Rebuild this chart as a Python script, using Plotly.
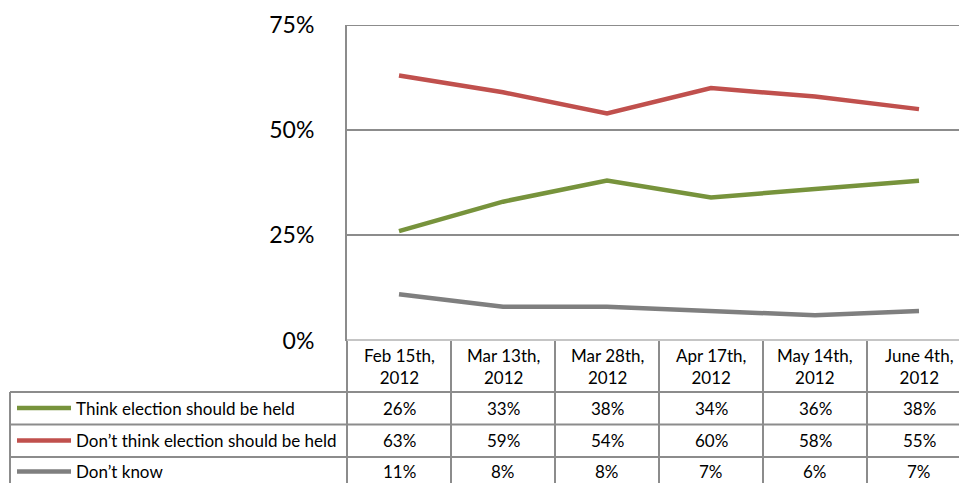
import plotly.graph_objects as go

# ---- data ----
dates = ["Feb 15th,<br>2012", "Mar 13th,<br>2012", "Mar 28th,<br>2012",
         "Apr 17th,<br>2012", "May 14th,<br>2012", "June 4th,<br>2012"]
think_held = [26, 33, 38, 34, 36, 38]
dont_think_held = [63, 59, 54, 60, 58, 55]
dont_know = [11, 8, 8, 7, 6, 7]
series_names = ["Think election should be held",
                "Don\u2019t think election should be held",
                "Don\u2019t know"]
y_ticks = [0, 25, 50, 75]

# page body has an 8px margin: size the figure so it fills the window
OFF = 8
W, H = 967 - OFF, 483 - OFF
FONT = "Lato"
colors = ["#77933C", "#C0504D", "#7F7F7F"]
grid_col = "#8C8C8C"

def px(x):
    return (x - OFF) / W

def py(y):
    return 1 - (y - OFF) / H

plot_left, plot_top, plot_bottom = 347, 25, 340.5
col_w = 104.0
n = len(dates)
right_units = (967 - plot_left) / col_w  # visible number of columns

fig = go.Figure()
all_series = [think_held, dont_think_held, dont_know]
for name, vals, c in zip(series_names, all_series, colors):
    fig.add_trace(go.Scatter(
        x=list(range(n)), y=vals, mode="lines", name=name,
        line=dict(color=c, width=4.5), showlegend=False, hoverinfo="skip"))

fig.update_layout(
    width=W, height=H, margin=dict(l=0, r=0, t=0, b=0, autoexpand=False),
    paper_bgcolor="white", plot_bgcolor="white",
    font=dict(family=FONT, color="#000000"),
    xaxis=dict(domain=[px(plot_left), 1], range=[-0.5, -0.5 + right_units],
               showticklabels=False, showgrid=False, zeroline=False,
               showline=False, fixedrange=True, automargin=False),
    yaxis=dict(domain=[py(plot_bottom), py(plot_top)], range=[0, 75],
               tickvals=y_ticks, ticktext=[f"{v}%" for v in y_ticks],
               tickfont=dict(size=23, family=FONT, color="#000"),
               ticklabelstandoff=26, ticks="",
               showgrid=True, gridcolor=grid_col, gridwidth=2,
               zeroline=False, showline=True, linecolor=grid_col, linewidth=2,
               fixedrange=True, automargin=False),
)

shapes = []
line_style = dict(color=grid_col, width=2)
for v in (y_ticks[0], y_ticks[-1]):
    shapes.append(dict(type="line", xref="paper", yref="y",
                       x0=px(plot_left), x1=1, y0=v, y1=v, line=line_style, layer="below"))
table_top = 341
row_lines = [392, 424.5, 457]
table_bottom = 495
for y in row_lines:
    shapes.append(dict(type="line", xref="paper", yref="paper",
                       x0=px(10), x1=px(975), y0=py(y), y1=py(y), line=line_style))
for i in range(1, n + 1):
    x = plot_left + i * col_w
    shapes.append(dict(type="line", xref="paper", yref="paper",
                       x0=px(x), x1=px(x), y0=py(table_top), y1=py(table_bottom), line=line_style))
shapes.append(dict(type="line", xref="paper", yref="paper",
                   x0=px(plot_left), x1=px(plot_left), y0=py(table_top), y1=py(table_bottom), line=line_style))
shapes.append(dict(type="line", xref="paper", yref="paper",
                   x0=px(10), x1=px(10), y0=py(row_lines[0]), y1=py(table_bottom), line=line_style))

annotations = []
TF = 17
for i, d in enumerate(dates):
    cx = plot_left + (i + 0.5) * col_w
    annotations.append(dict(xref="paper", yref="paper", x=px(cx), y=py(366.5),
                            text=d, showarrow=False, xanchor="center", yanchor="middle",
                            font=dict(size=TF, family=FONT, color="#000")))
row_centers = [408, 440.5, 471.5]
for r, (name, vals, c) in enumerate(zip(series_names, all_series, colors)):
    yc = row_centers[r]
    shapes.append(dict(type="line", xref="paper", yref="paper",
                       x0=px(17), x1=px(71), y0=py(yc), y1=py(yc),
                       line=dict(color=c, width=4.5)))
    annotations.append(dict(xref="paper", yref="paper", x=px(74), y=py(yc),
                            text=name, showarrow=False, xanchor="left", yanchor="middle",
                            font=dict(size=TF, family=FONT, color="#000")))
    for i, v in enumerate(vals):
        cx = plot_left + (i + 0.5) * col_w
        annotations.append(dict(xref="paper", yref="paper", x=px(cx), y=py(yc),
                                text=f"{v}%", showarrow=False, xanchor="center", yanchor="middle",
                                font=dict(size=TF, family=FONT, color="#000")))

fig.update_layout(shapes=shapes, annotations=annotations)
fig.write_html("out.html")
